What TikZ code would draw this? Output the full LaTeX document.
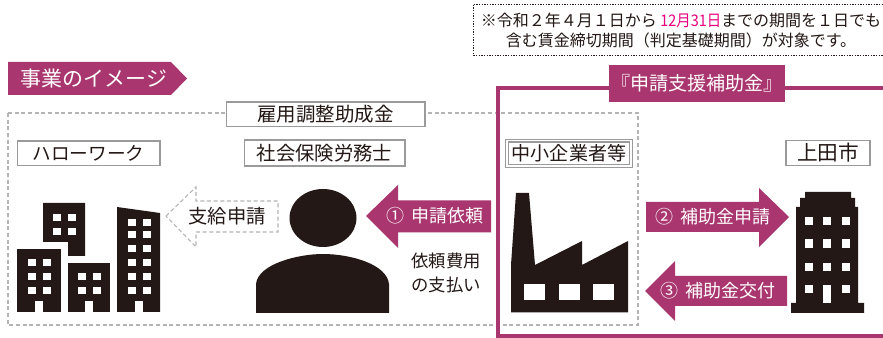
\documentclass[tikz,border=0pt]{standalone}
\usepackage{fontspec}
\setmainfont{Noto Sans CJK JP}
\definecolor{mag}{HTML}{A9366F}
\definecolor{ink}{HTML}{231815}
\definecolor{pinkish}{HTML}{E6007E}
\definecolor{edge}{HTML}{9A9A9A}
\definecolor{dashgray}{HTML}{B4B4B4}
\tikzset{
  labelbox/.style={draw=edge,line width=1pt,fill=white,text=ink,inner sep=0pt,anchor=center},
  dashline/.style={draw=dashgray,line width=0.8pt,dash pattern=on 3pt off 2pt},
  wtxt/.style={text=white,inner sep=0pt,font=\fontsize{13.5}{16}\selectfont},
  dtxt/.style={text=ink,inner sep=0pt,font=\fontsize{14.5}{17}\selectfont},
}
\newcommand{\win}[2]{\fill[white] (#1,#2) rectangle ++(8,7.5);}
\newcommand{\twin}[2]{\fill[white] (#1,#2) rectangle ++(8,8.5);}
\newcommand{\zone}{\char"FF11\relax}
\newcommand{\ztwo}{\char"FF12\relax}
\newcommand{\zfour}{\char"FF14\relax}
\newcommand{\zlp}{\char"FF08\relax}
\newcommand{\zrp}{\char"FF09\relax}
\begin{document}
\begin{tikzpicture}[x=0.75pt,y=-0.75pt]
\useasboundingbox (0,0) rectangle (883,338);
\fill[white] (0,0) rectangle (883,338);
% note
\draw[ink,line width=0.7pt,dash pattern=on 1pt off 1pt] (883,4) -- (473,4) -- (473,55) -- (883,55);
\node[text=ink,inner sep=0pt,align=center,font=\fontsize{12}{15}\selectfont] (note) at (681,31)
 {※令和\ztwo 年\zfour 月\zone 日から {\color{pinkish}\addfontfeature{FakeStretch=0.9}12月31日}までの期間を\zone 日でも\\含む賃金締切期間\zlp 判定基礎期間\zrp が対象です。\hspace{4pt}};
% ribbon
\fill[mag] (8,62) -- (171,62) -- (187,78.5) -- (171,95) -- (8,95) -- cycle;
\node[text=white,inner sep=0pt,font=\fontsize{15.7}{18}\selectfont] (title) at (94,78.5) {事業のイメージ};
% dashed area
\draw[dashline] (8,113) rectangle (638,325);
% frame
\draw[mag,line width=3.6pt] (883,88) -- (498,88) -- (498,336) -- (883,336);
\node[fill=mag,text=white,minimum width=132pt,minimum height=27.7pt,inner sep=0pt,font=\fontsize{14.3}{17}\selectfont] (support) at (697,83.5) {『申請支援補助金』};
% label boxes
\node[labelbox,minimum width=149pt,minimum height=18.5pt,font=\fontsize{14.6}{17}\selectfont] (koyo) at (325.5,114.5) {雇用調整助成金};
\node[labelbox,minimum width=107pt,minimum height=18.5pt,font=\fontsize{14}{17}\selectfont] (hello) at (88.5,153.5) {ハローワーク};
\node[labelbox,minimum width=120.5pt,minimum height=19.5pt,font=\fontsize{14.5}{17}\selectfont] (sr) at (324.5,153) {社会保険労務士};
\node[labelbox,double=white,double distance=1pt,line width=0.8pt,minimum width=93pt,minimum height=19pt,font=\fontsize{14.3}{17}\selectfont] (sme) at (569,153.5) {中小企業者等};
\node[labelbox,minimum width=63pt,minimum height=19pt,font=\fontsize{15.5}{17}\selectfont] (city) at (828,153) {上田市};
% arrows
\fill[mag] (366,216) -- (398,185) -- (398,200.5) -- (491,200.5) -- (491,232.5) -- (398,232.5) -- (398,248) -- cycle;
\node[wtxt] (a1) at (435,216) {①\hspace{6pt}申請依頼};
\fill[mag] (646,202) -- (759,202) -- (759,188) -- (789,217) -- (759,247) -- (759,232) -- (646,232) -- cycle;
\node[wtxt] (a2) at (713,217) {②\hspace{6pt}補助金申請};
\fill[mag] (645,291) -- (675,261) -- (675,276) -- (787,276) -- (787,306) -- (675,306) -- (675,321) -- cycle;
\node[wtxt] (a3) at (718,291) {③\hspace{6pt}補助金交付};
\draw[dashline] (166,216) -- (196,187) -- (196,201) -- (278,201) -- (278,232) -- (196,232) -- (196,247) -- cycle;
\node[dtxt] (a4) at (227,216) {支給申請};
\node[dtxt,align=center,font=\fontsize{13}{18.5}\selectfont] (pay) at (446,273) {依頼費用\\の支払い};
% left buildings
\fill[ink] (43,203) -- (85,203) -- (85,256) -- (68,256) -- (68,242) -- (43,242) -- cycle;
\fill[ink] (17,249) rectangle (61,312);
\fill[ink] (68,263) rectangle (110,312);
\fill[ink] (117,207) -- (160,213) -- (160,312) -- (117,312) -- cycle;
\foreach \x in {53,68} \foreach \y in {214,228} {\win{\x}{\y}}
\foreach \x in {28,43} \foreach \y in {259,273,287} {\win{\x}{\y}}
\foreach \x in {78,93} \foreach \y in {273,287} {\win{\x}{\y}}
\foreach \x in {128,143} \foreach \y in {219,231,245,259,273,287} {\win{\x}{\y}}
\fill[white] (35,301) rectangle (43,312);
\fill[white] (85,301) rectangle (93,312);
\fill[white] (135,301) rectangle (143,312);
% person
\fill[ink] (323,218) ellipse [x radius=33.5,y radius=29];
\fill[ink] (256,313) -- (256,284) .. controls (258,264) and (298,254) .. (323,254) .. controls (350,254) and (387,264) .. (389,284) -- (389,313) -- cycle;
% factory
\fill[ink] (511,312.5) -- (511,265) -- (516,193) -- (529,193) -- (535,265) -- (582,241) -- (582,265) -- (628,241) -- (628,312.5) -- cycle;
\fill[white] (524,284) rectangle (545,300);
\fill[white] (559,284) rectangle (580,300);
\fill[white] (593,284) rectangle (614,300);
% right building
\fill[ink] (805,192) -- (851,192) -- (851,198) -- (855,198) -- (855,207) -- (858,207) -- (858,303) -- (864,303) -- (864,313) -- (791,313) -- (791,303) -- (796,303) -- (796,207) -- (800,207) -- (800,198) -- (805,198) -- cycle;
\foreach \x in {805,823,842} \foreach \y in {217,239.5,263} {\twin{\x}{\y}}
\twin{805}{285}
\twin{842}{285}
\fill[white] (823,285) rectangle (831,303);
\end{tikzpicture}
\end{document}
